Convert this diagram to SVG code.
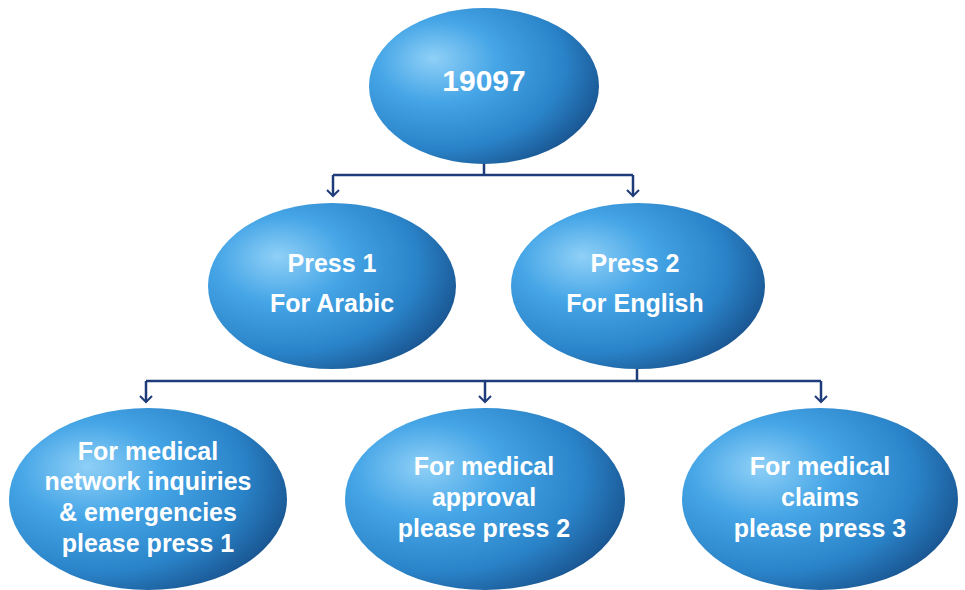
<svg xmlns="http://www.w3.org/2000/svg" width="965" height="590" viewBox="0 0 965 590">
<defs>
<radialGradient id="g" cx="0.32" cy="0.38" r="0.75" fx="0.28" fy="0.32">
<stop offset="0" stop-color="#8fd0f7"/>
<stop offset="0.35" stop-color="#45a5e6"/>
<stop offset="0.72" stop-color="#2a83c8"/>
<stop offset="1" stop-color="#174f8a"/>
</radialGradient>
<marker id="arr" viewBox="0 0 10 14" refX="8" refY="7" markerWidth="10" markerHeight="14" markerUnits="userSpaceOnUse" orient="auto">
<path d="M2,1 L8,7 L2,13" fill="none" stroke="#1f3c7a" stroke-width="2"/>
</marker>
<style>
.n{fill:url(#g);}
.t{font-family:"Liberation Sans",Arial,sans-serif;font-weight:bold;fill:#ffffff;text-anchor:middle;font-size:25px;}
.c{fill:none;stroke:#1f3c7a;stroke-width:2.5;}
</style>
</defs>
<g id="connectors">
<path class="c" d="M484,163 V175"/>
<path class="c" d="M333,175 H633"/>
<path class="c" d="M333,175 V196" marker-end="url(#arr)"/>
<path class="c" d="M633,175 V196" marker-end="url(#arr)"/>
<path class="c" d="M637,368 V381"/>
<path class="c" d="M146,381 H821"/>
<path class="c" d="M146,381 V402" marker-end="url(#arr)"/>
<path class="c" d="M485,381 V402" marker-end="url(#arr)"/>
<path class="c" d="M821,381 V402" marker-end="url(#arr)"/>
</g>
<g id="n-19097">
<ellipse class="n" cx="484" cy="86" rx="115" ry="78"/>
<text class="t" x="484" y="91" style="font-size:30px">19097</text>
</g>
<g id="n-arabic">
<ellipse class="n" cx="332" cy="286" rx="124" ry="83"/>
<text class="t" x="332" y="272">Press 1</text>
<text class="t" x="332" y="312">For Arabic</text>
</g>
<g id="n-english">
<ellipse class="n" cx="638" cy="286" rx="127" ry="83"/>
<text class="t" x="635" y="272">Press 2</text>
<text class="t" x="635" y="312">For English</text>
</g>
<g id="n-network">
<ellipse class="n" cx="148" cy="499" rx="139" ry="91"/>
<text class="t" x="148" y="460">For medical</text>
<text class="t" x="148" y="490">network inquiries</text>
<text class="t" x="148" y="521">&amp; emergencies</text>
<text class="t" x="148" y="552">please press 1</text>
</g>
<g id="n-approval">
<ellipse class="n" cx="485" cy="499" rx="140" ry="91"/>
<text class="t" x="484" y="475">For medical</text>
<text class="t" x="484" y="506">approval</text>
<text class="t" x="484" y="537">please press 2</text>
</g>
<g id="n-claims">
<ellipse class="n" cx="820" cy="499" rx="138" ry="91"/>
<text class="t" x="820" y="475">For medical</text>
<text class="t" x="820" y="506">claims</text>
<text class="t" x="820" y="537">please press 3</text>
</g>
</svg>
